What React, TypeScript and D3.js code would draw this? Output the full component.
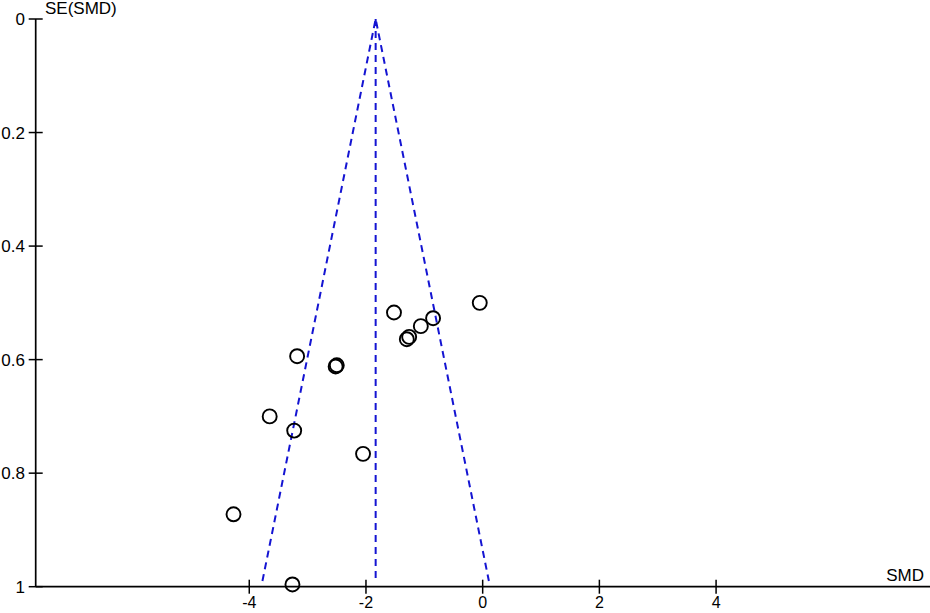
import React from "react";
import * as d3 from "d3";

const smd = [-0.05, -1.52, -0.85, -1.06, -1.30, -1.26, -3.18, -2.52, -2.50, -3.65, -3.23, -2.05, -4.27, -3.26];
const se = [0.5, 0.517, 0.527, 0.541, 0.564, 0.560, 0.594, 0.612, 0.610, 0.70, 0.725, 0.766, 0.8725, 0.996];
const xTicks = [-4, -2, 0, 2, 4];
const yTicks = [0, 0.2, 0.4, 0.6, 0.8, 1];
const pooled = -1.834;
const seMax = 0.99;

export default function App() {
  const W = 930, H = 613;
  const x = d3.scaleLinear().domain([-7.66, 7.666]).range([35.7, 930]);
  const y = d3.scaleLinear().domain([0, 1]).range([19, 586.7]);
  const font = "Arial, 'Liberation Sans', sans-serif";
  const blue = "#1414d2";
  const funnel = d3.line<[number, number]>().x(d => x(d[0])).y(d => y(d[1]))([
    [pooled - 1.96 * seMax, seMax], [pooled, 0], [pooled + 1.96 * seMax, seMax]
  ]) as string;
  return (
    <div style={{ position: "absolute", left: 0, top: 0 }}>
      <svg width={W} height={H} style={{ display: "block", background: "#fff" }}>
        <path d={funnel} fill="none" stroke={blue} strokeWidth={2} strokeDasharray="7,5" />
        <line x1={x(pooled)} x2={x(pooled)} y1={y(0)} y2={y(seMax)} stroke={blue} strokeWidth={2} strokeDasharray="7,5" />
        <line x1={x(-7.66)} x2={930} y1={y(1)} y2={y(1)} stroke="#000" strokeWidth={1.7} />
        <line x1={x(-7.66)} x2={x(-7.66)} y1={y(0)} y2={y(1)} stroke="#000" strokeWidth={1.7} />
        {yTicks.map(t => (
          <g key={"y" + t}>
            <line x1={x(-7.66) - 7} x2={x(-7.66) + 7} y1={y(t)} y2={y(t)} stroke="#000" strokeWidth={1.5} />
            <text x={25} y={y(t) + 6} textAnchor="end" fontFamily={font} fontSize={17} fill="#000">{String(t)}</text>
          </g>
        ))}
        {xTicks.map(t => (
          <g key={"x" + t}>
            <line x1={x(t)} x2={x(t)} y1={y(1) - 7} y2={y(1) + 7} stroke="#000" strokeWidth={1.5} />
            <text x={x(t)} y={608} textAnchor="middle" fontFamily={font} fontSize={16} fill="#000">{String(t)}</text>
          </g>
        ))}
        <text x={45} y={14} fontFamily={font} fontSize={17} fill="#000">SE(SMD)</text>
        <text x={924} y={581} textAnchor="end" fontFamily={font} fontSize={17} fill="#000">SMD</text>
        {smd.map((v, i) => (
          <circle key={i} cx={x(v)} cy={y(se[i])} r={7} fill="none" stroke="#000" strokeWidth={1.9} />
        ))}
      </svg>
    </div>
  );
}
